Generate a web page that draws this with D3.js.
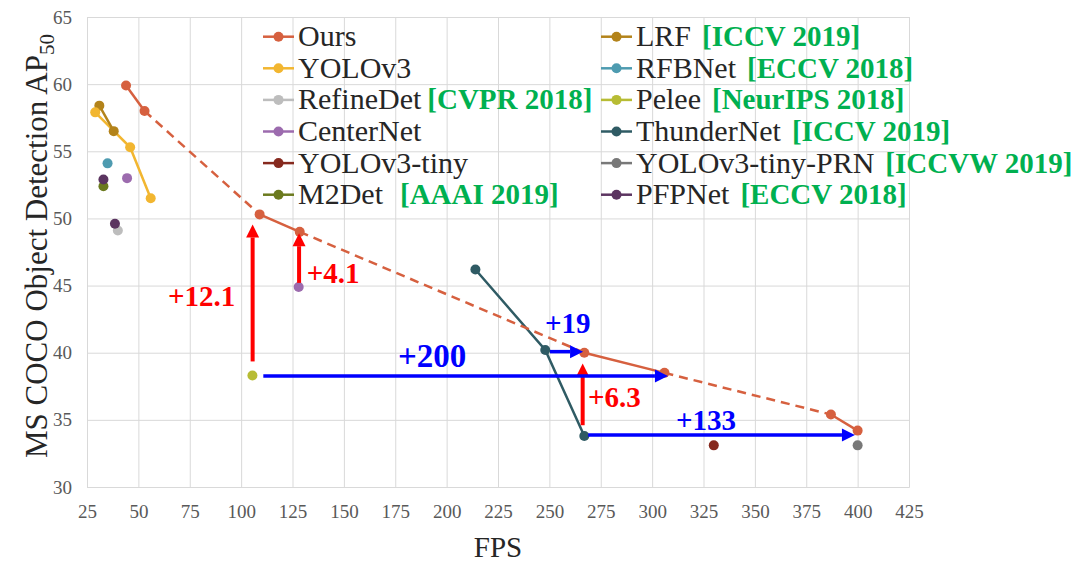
<!DOCTYPE html>
<html>
<head>
<meta charset="utf-8">
<script src="https://cdn.jsdelivr.net/npm/d3@7"></script>
<style>
  html, body { margin: 0; padding: 0; background: #fff; }
  svg { display: block; font-family: "Liberation Serif", "Times New Roman", serif; }
</style>
</head>
<body>
<svg id="chart" width="1080" height="565"></svg>
<script>
// ---------------- data ----------------
const xTicks = [25, 50, 75, 100, 125, 150, 175, 200, 225, 250, 275, 300, 325, 350, 375, 400, 425];
const yTicks = [30, 35, 40, 45, 50, 55, 60, 65];

const seriesNames = ["Ours", "YOLOv3", "RefineDet", "CenterNet", "YOLOv3-tiny", "M2Det",
                     "LRF", "RFBNet", "Pelee", "ThunderNet", "YOLOv3-tiny-PRN", "PFPNet"];
const seriesVenues = ["", "", "[CVPR 2018]", "", "", "[AAAI 2019]",
                      "[ICCV 2019]", "[ECCV 2018]", "[NeurIPS 2018]", "[ICCV 2019]", "[ICCVW 2019]", "[ECCV 2018]"];
const seriesColors = ["#D6603F", "#F2B630", "#BDBDBD", "#9C6BAE", "#86291E", "#6B7A1E",
                      "#B3831A", "#4E9BB0", "#B7BC34", "#2F5B64", "#787878", "#5B3460"];

// [FPS, AP50]
const oursPts       = [[44, 59.9], [53, 58.0], [109, 50.3], [128.5, 49.0], [267, 40.0], [306, 38.5], [387, 35.4], [400, 34.2]];
const yolov3Pts     = [[29, 57.9], [46, 55.3], [56, 51.5]];
const refineDetPts  = [[40, 49.1]];
const centerNetPts  = [[44.5, 53.0], [128, 44.9]];
const yolov3TinyPts = [[330, 33.1]];
const m2detPts      = [[33, 52.4]];
const lrfPts        = [[31, 58.4], [38, 56.5]];
const rfbNetPts     = [[35, 54.1]];
const peleePts      = [[105.5, 38.3]];
const thunderNetPts = [[214, 46.2], [248, 40.2], [267, 33.8]];
const tinyPrnPts    = [[400, 33.1]];
const pfpNetPts     = [[33, 52.9], [38.6, 49.6]];

const seriesPoints = [oursPts, yolov3Pts, refineDetPts, centerNetPts, yolov3TinyPts, m2detPts,
                      lrfPts, rfbNetPts, peleePts, thunderNetPts, tinyPrnPts, pfpNetPts];
const seriesConnected = [true, true, false, false, false, false, true, false, false, true, false, false];

// annotations: arrows [x1, y1, x2, y2] in data units, labels [x, y, text]
const redArrows  = [[105.6, 39.35, 105.6, 49.55], [128.2, 45.2, 128.2, 48.9], [266.2, 34.6, 266.2, 39.2]];
const blueArrows = [[110.8, 38.27, 307.7, 38.27], [250.3, 40.08, 266.4, 40.08], [268.9, 33.87, 398.7, 33.87]];
const redLabels  = [[64.4, 43.48, "+12.1"], [131.9, 45.19, "+4.1"], [268.8, 35.96, "+6.3"]];
const blueLabels = [[176.3, 38.9, "+200"], [247.9, 41.47, "+19"], [311.6, 34.24, "+133"]];
const blueLabelSizes = [33, 29, 29];

// ---------------- layout ----------------
const svg = d3.select("#chart");
const L = 87, R = 909, T = 17, B = 487;
const x = d3.scaleLinear().domain([25, 425]).range([L, R]);
const y = d3.scaleLinear().domain([30, 65]).range([B, T]);
const gridColor = "#D9D9D9";

// gridlines + axes
const gx = svg.append("g").attr("transform", `translate(0,${B})`)
  .call(d3.axisBottom(x).tickValues(xTicks).tickSize(-(B - T)).tickPadding(18).tickFormat(d3.format("d")));
gx.select(".domain").attr("stroke", gridColor);
gx.selectAll(".tick line").attr("stroke", gridColor);
gx.selectAll(".tick text").attr("fill", "#595959").style("font-size", "19px").style("font-family", "Liberation Serif, serif");

const gy = svg.append("g").attr("transform", `translate(${L},0)`)
  .call(d3.axisLeft(y).tickValues(yTicks).tickSize(-(R - L)).tickPadding(15).tickFormat(d3.format("d")));
gy.select(".domain").attr("stroke", gridColor);
gy.selectAll(".tick line").attr("stroke", gridColor);
gy.selectAll(".tick text").attr("fill", "#595959").style("font-size", "19px").style("font-family", "Liberation Serif, serif");

// axis titles
svg.append("text").attr("x", (L + R) / 2).attr("y", 557).attr("text-anchor", "middle")
  .attr("fill", "#262626").style("font-size", "29px").text("FPS");

const yt = svg.append("text").attr("transform", `translate(47,${(T + B) / 2 - 6}) rotate(-90)`)
  .attr("text-anchor", "middle").attr("fill", "#262626").style("font-size", "31px");
yt.append("tspan").text("MS COCO Object Detection AP");
yt.append("tspan").attr("dy", 7).style("font-size", "21px").text("50");

// ---------------- legend ----------------
const legend = svg.append("g");
seriesNames.forEach((name, i) => {
  const col = Math.floor(i / 6), row = i % 6;
  const lx = col === 0 ? 263 : 601;
  const cy = 36.7 + row * 31.6;
  const g = legend.append("g");
  g.append("line").attr("x1", lx).attr("x2", lx + 31).attr("y1", cy).attr("y2", cy)
    .attr("stroke", seriesColors[i]).attr("stroke-width", 2.5);
  g.append("circle").attr("cx", lx + 15.5).attr("cy", cy).attr("r", 5).attr("fill", seriesColors[i]);
  const t = g.append("text").attr("x", lx + 35).attr("y", cy + 9.5).attr("fill", "#262626")
    .style("font-size", "30px").text(name);
  if (seriesVenues[i]) {
    const w = t.node().getComputedTextLength();
    const gap = name === "M2Det" ? 17 : (name === "RefineDet" ? 6 : 11);
    g.append("text").attr("x", lx + 35 + w + gap).attr("y", cy + 9.5).attr("fill", "#00B050")
      .style("font-size", "29px").style("font-weight", "bold").text(seriesVenues[i]);
  }
});

// ---------------- series ----------------
const line = d3.line().x(d => x(d[0])).y(d => y(d[1]));
const plot = svg.append("g");

seriesPoints.forEach((pts, i) => {
  if (!seriesConnected[i] || i === 0) return;
  plot.append("path").attr("d", line(pts)).attr("fill", "none")
    .attr("stroke", seriesColors[i]).attr("stroke-width", 2.5);
});

// Ours: solid within pairs, dashed between pairs
for (let k = 0; k < oursPts.length - 1; k++) {
  const dashed = k % 2 === 1;
  plot.append("path").attr("d", line([oursPts[k], oursPts[k + 1]])).attr("fill", "none")
    .attr("stroke", seriesColors[0]).attr("stroke-width", 2.5)
    .attr("stroke-dasharray", dashed ? "9,6" : null);
}

// markers (draw Ours last so it sits on top)
const order = [2, 3, 4, 5, 6, 7, 8, 9, 10, 11, 1, 0];
order.forEach(i => {
  plot.selectAll(null).data(seriesPoints[i]).enter().append("circle")
    .attr("cx", d => x(d[0])).attr("cy", d => y(d[1])).attr("r", 5)
    .attr("fill", seriesColors[i]);
});

// ---------------- annotations ----------------
function arrow(a, color, width) {
  const x1 = x(a[0]), y1 = y(a[1]), x2 = x(a[2]), y2 = y(a[3]);
  const ang = Math.atan2(y2 - y1, x2 - x1);
  const hl = 13, hw = 6.5;
  const bx = x2 - hl * Math.cos(ang), by = y2 - hl * Math.sin(ang);
  svg.append("line").attr("x1", x1).attr("y1", y1).attr("x2", bx).attr("y2", by)
    .attr("stroke", color).attr("stroke-width", width);
  const px = -Math.sin(ang), py = Math.cos(ang);
  svg.append("path")
    .attr("d", `M${x2},${y2}L${bx + px * hw},${by + py * hw}L${bx - px * hw},${by - py * hw}Z`)
    .attr("fill", color);
}
redArrows.forEach(a => arrow(a, "#FF0000", 4));
blueArrows.forEach(a => arrow(a, "#0000FF", 3.5));

redLabels.forEach(l => svg.append("text").attr("x", x(l[0])).attr("y", y(l[1]))
  .attr("fill", "#FF0000").style("font-size", "29px").style("font-weight", "bold").text(l[2]));
blueLabels.forEach((l, i) => svg.append("text").attr("x", x(l[0])).attr("y", y(l[1]))
  .attr("fill", "#0000FF").style("font-size", blueLabelSizes[i] + "px").style("font-weight", "bold").text(l[2]));
</script>
</body>
</html>
